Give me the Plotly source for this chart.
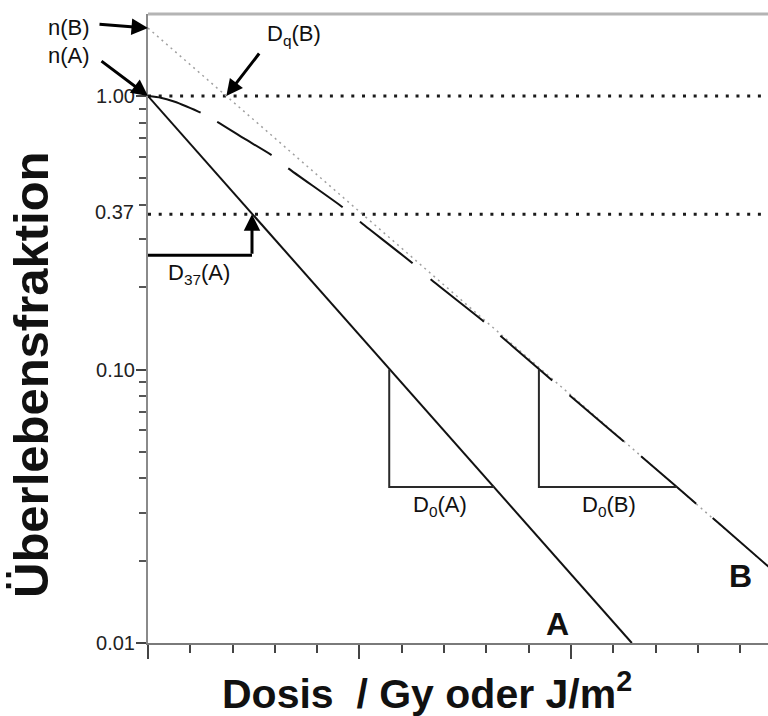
import numpy as np
import plotly.graph_objects as go

FONT = "Liberation Sans, Arial, Helvetica, sans-serif"

# ---- data (dose in arbitrary units, survival fraction) ----
x_max = 14.66
y_range_log = [-2.0, 0.30]

# curve A: exponential (single hit)
a_dose = [0.0, 11.44]
a_surv = [1.0, 0.01]

# curve B: shouldered curve
b_dose = [0.0, 0.3, 0.615, 0.9, 1.246, 1.638, 2.27, 2.924, 3.317, 4.603, 5.012, 6.258, 6.683,
          7.943, 9.243, 12.506, 14.627, 15.0]
b_surv = [1.0, 0.986, 0.955, 0.918, 0.869, 0.805, 0.700, 0.608, 0.544, 0.392, 0.347, 0.2445,
          0.2137, 0.1496, 0.1004, 0.0372, 0.01929, 0.0172]

# extrapolation of B to D = 0 -> n(B)
n_b = 1.773
ext_dose = [0.0, 15.0]
ext_surv = [n_b, 0.01718]
dq_b = 1.852

# reference levels
ref_levels = [1.0, 0.37]

# D37(A)
d37_a = 2.459
d37_bracket_y = 0.262

# D0 triangles
tri_a_x = [5.704, 5.704, 8.187]
tri_a_y = [0.1, 0.0372, 0.0372]
tri_b_x = [9.243, 9.243, 12.499]
tri_b_y = [0.1, 0.0372, 0.0372]

# tick values
x_major = [0, 5, 10]
x_minor = [1, 2, 3, 4, 6, 7, 8, 9, 11, 12, 13, 14]
y_major = [0.01, 0.1, 1.0]
y_major_text = ["0.01", "0.10", "1.00"]
y_minor = [0.02, 0.03, 0.04, 0.05, 0.06, 0.07, 0.08, 0.09,
           0.2, 0.3, 0.4, 0.5, 0.6, 0.7, 0.8, 0.9]

fig = go.Figure()

# dotted reference lines
for lv in ref_levels:
    fig.add_trace(go.Scatter(x=[0, x_max], y=[lv, lv], mode="lines",
                             line=dict(color="#1a1a1a", width=3, dash="3px,7.7px"),
                             hoverinfo="skip", showlegend=False))

# extrapolation (light dotted)
fig.add_trace(go.Scatter(x=ext_dose, y=ext_surv, mode="lines",
                         line=dict(color="#a0a0a0", width=1.5, dash="2px,4px"),
                         hoverinfo="skip", showlegend=False))

# curve A
fig.add_trace(go.Scatter(x=a_dose, y=a_surv, mode="lines",
                         line=dict(color="#111111", width=2),
                         hoverinfo="skip", showlegend=False))

# curve B (dashed)
b_dash = "55.5px,18.9px,63.8px,21.3px,66.9px,22.5px,67.1px,24.1px,68.1px,22px,68.3px,22.8px,71.1px,22.4px,73.2px,21.7px,300px,20px"
fig.add_trace(go.Scatter(x=b_dose, y=b_surv, mode="lines",
                         line=dict(color="#111111", width=2, dash=b_dash, shape="spline",
                                   smoothing=0.6),
                         hoverinfo="skip", showlegend=False))

# D0 triangles
for tx, ty in [(tri_a_x, tri_a_y), (tri_b_x, tri_b_y)]:
    fig.add_trace(go.Scatter(x=tx, y=ty, mode="lines",
                             line=dict(color="#2a2a2a", width=2),
                             hoverinfo="skip", showlegend=False))

# D37 bracket horizontal
fig.add_trace(go.Scatter(x=[0, d37_a, d37_a], y=[d37_bracket_y, d37_bracket_y, d37_bracket_y],
                         mode="lines", line=dict(color="#000000", width=3),
                         hoverinfo="skip", showlegend=False))

L, T, W, H = 148, 14, 620, 629


def px(xp):
    return (xp - L) / W


def py(yp):
    return (T + H - yp) / H


annotations = []
# arrows
arrow_specs = [
    (0.0, np.log10(n_b), -50, -4),
    (0.0, 0.0, -48, -36),
    (dq_b, 0.0, 34, -44),
    (d37_a, np.log10(0.37), 0, 41),
]
for ax_x, ax_y, dx, dy in arrow_specs:
    annotations.append(dict(x=ax_x, y=ax_y, xref="x", yref="y", text="", showarrow=True,
                            ax=dx, ay=dy, arrowhead=2, arrowsize=1.1, arrowwidth=3,
                            arrowcolor="#000000"))

def txt(text, xp, yp, size=22, bold=False, angle=0):
    if bold:
        text = "<b>" + text + "</b>"
    annotations.append(dict(text=text, x=px(xp), y=py(yp), xref="paper", yref="paper",
                            xanchor="center", yanchor="middle", showarrow=False,
                            textangle=angle,
                            font=dict(family=FONT, size=size, color="#111111")))

txt("n(B)", 69, 27)
txt("n(A)", 69, 55)
txt("D<sub>q</sub>(B)", 294, 35)
txt("D<sub>37</sub>(A)", 199, 274)
txt("D<sub>0</sub>(A)", 440, 506)
txt("D<sub>0</sub>(B)", 609, 506)
txt("A", 557, 624, size=32, bold=True)
txt("B", 740, 576, size=32, bold=True)
txt("Dosis \u00a0/ Gy oder J/m<sup>2</sup>", 427, 691, size=41, bold=True)
txt("Überlebensfraktion", 31, 375, size=49, bold=True, angle=-90)
# 0.37 label
annotations.append(dict(text="0.37", x=0, y=np.log10(0.37), xref="paper", yref="y",
                        xanchor="right", yanchor="middle", xshift=-12, yshift=2,
                        showarrow=False, font=dict(family=FONT, size=20, color="#222222")))

fig.update_layout(
    width=768, height=716,
    margin=dict(l=L, r=0, t=T, b=716 - T - H, pad=0),
    paper_bgcolor="white", plot_bgcolor="white",
    showlegend=False,
    annotations=annotations,
    shapes=[dict(type="line", xref="paper", yref="paper", x0=0, x1=1, y0=1, y1=1,
                 line=dict(color="#b4b4b4", width=3))],
    xaxis=dict(range=[0, x_max], showgrid=False, zeroline=False, showline=True,
               linecolor="#7a7a7a", linewidth=2, ticks="outside", tickmode="array",
               tickvals=x_major, ticklen=14, tickwidth=1.5, tickcolor="#444444",
               showticklabels=False,
               minor=dict(tickmode="array", tickvals=x_minor, ticks="outside", ticklen=8,
                          tickwidth=1.5, tickcolor="#444444", showgrid=False)),
    yaxis=dict(type="log", range=y_range_log, showgrid=False, zeroline=False, showline=True,
               linecolor="#8a8a8a", linewidth=2, ticks="outside", tickmode="array",
               tickvals=y_major, ticktext=y_major_text, ticklen=10, tickwidth=1.5,
               tickcolor="#444444", ticklabelstandoff=-3,
               tickfont=dict(family=FONT, size=20, color="#222222"),
               minor=dict(tickmode="array", tickvals=y_minor, ticks="outside", ticklen=7,
                          tickwidth=1.5, tickcolor="#555555", showgrid=False)),
)

fig.write_html("out.html")
